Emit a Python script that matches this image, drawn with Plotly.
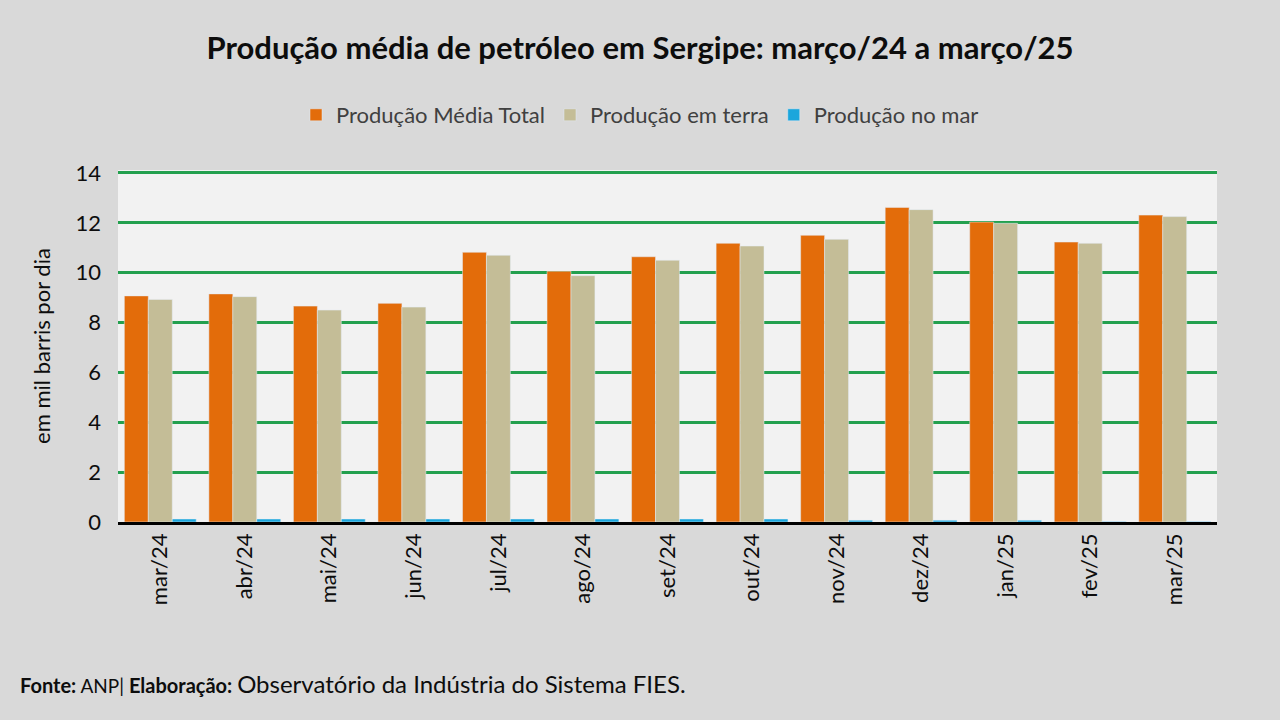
import plotly.graph_objects as go

# Data
meses = ['mar/24', 'abr/24', 'mai/24', 'jun/24', 'jul/24', 'ago/24', 'set/24',
         'out/24', 'nov/24', 'dez/24', 'jan/25', 'fev/25', 'mar/25']
total = [9.07, 9.15, 8.66, 8.77, 10.82, 10.06, 10.64, 11.18, 11.50, 12.62, 12.03, 11.23, 12.31]
terra = [8.93, 9.04, 8.50, 8.62, 10.70, 9.88, 10.50, 11.07, 11.34, 12.53, 11.98, 11.18, 12.25]
mar = [0.12, 0.12, 0.12, 0.12, 0.12, 0.12, 0.12, 0.12, 0.07, 0.07, 0.07, 0.02, 0.02]
y_ticks = [0, 2, 4, 6, 8, 10, 12, 14]

FONT = 'Lato'

fig = go.Figure()
fig.add_trace(go.Bar(x=meses, y=total, name='Produção Média Total', marker_color='#e36c0a'))
fig.add_trace(go.Bar(x=meses, y=terra, name='Produção em terra', marker_color='#c4bd97'))
fig.add_trace(go.Bar(x=meses, y=mar, name='Produção no mar', marker_color='#1ba6dc'))

fig.update_layout(
    width=1280, height=720,
    paper_bgcolor='#d9d9d9',
    plot_bgcolor='#f2f2f2',
    font=dict(family=FONT, color='#262626', size=20),
    margin=dict(l=118, r=63, t=170, b=198),
    barmode='group', bargap=0.15, bargroupgap=0,
    title=dict(text='<b>Produção média de petróleo em Sergipe: março/24 a março/25</b>',
               x=0.5, xanchor='center', y=1 - 48 / 720, yanchor='middle',
               font=dict(size=31, color='#0d0d0d')),
    legend=dict(orientation='h', x=0.5, xanchor='center', xref='container',
                y=1 - 115 / 720, yref='container', yanchor='middle',
                font=dict(size=22, color='#404040'), bgcolor='rgba(0,0,0,0)',
                itemwidth=30, tracegroupgap=0),
    showlegend=True,
)

fig.update_xaxes(showline=True, linecolor='#000000', linewidth=2.5, tickangle=-90,
                 ticks='', tickfont=dict(size=22, color='#0d0d0d'), showgrid=False)
fig.update_yaxes(range=[0, 14.12], tickvals=y_ticks, showgrid=True, gridcolor='#23a04e',
                 gridwidth=2.5, zeroline=False, showline=False,
                 tickfont=dict(size=22, color='#0d0d0d'), ticks='', ticklabelstandoff=16,
                 title=dict(text='em mil barris por dia', font=dict(size=22, color='#0d0d0d'),
                            standoff=18))

fig.add_annotation(
    text='<b style="font-size:20px">Fonte:</b> ANP| <b style="font-size:20px">Elaboração:</b> '
         '<span style="font-size:24px">Observatório da Indústria do Sistema FIES.</span>',
    xref='paper', yref='paper', x=-100 / 1099, y=-(683 - 522) / 352,
    xanchor='left', yanchor='middle', showarrow=False,
    font=dict(size=19, color='#0d0d0d'),
)

fig.write_html('out.html', config={'displayModeBar': False})

# remove default page margin so the figure sits at the window origin
with open('out.html', encoding='utf-8') as f:
    html = f.read()
html = html.replace('<body>', '<body style="margin:0">', 1)
with open('out.html', 'w', encoding='utf-8') as f:
    f.write(html)
